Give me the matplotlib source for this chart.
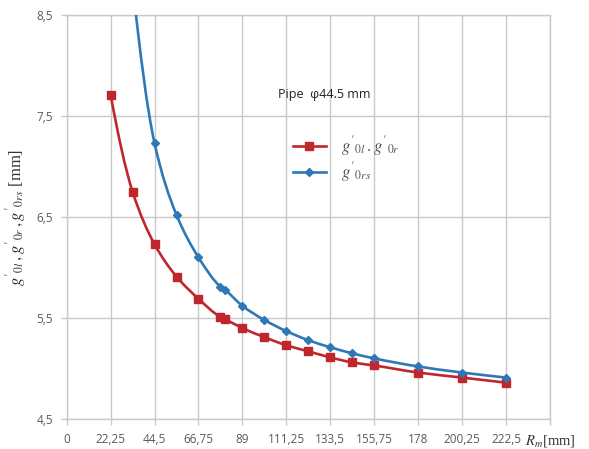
import matplotlib
matplotlib.use("Agg")
import matplotlib.pyplot as plt
from matplotlib.path import Path
from matplotlib.patches import PathPatch

# data
r_red = [22.25, 33.375, 44.5, 55.625, 66.75, 77.875, 80.1, 89, 100.125, 111.25,
         122.375, 133.5, 144.625, 155.75, 178, 200.25, 222.5]
g_red = [7.71, 6.75, 6.23, 5.91, 5.69, 5.51, 5.49, 5.40, 5.31, 5.23,
         5.17, 5.11, 5.06, 5.03, 4.96, 4.91, 4.86]

r_blue = [33.375, 44.5, 55.625, 66.75, 77.875, 80.1, 89, 100.125, 111.25,
          122.375, 133.5, 144.625, 155.75, 178, 200.25, 222.5]
g_blue = [8.80, 7.23, 6.52, 6.10, 5.81, 5.78, 5.62, 5.48, 5.37,
          5.28, 5.21, 5.15, 5.10, 5.02, 4.96, 4.91]

x_ticks = [0, 22.25, 44.5, 66.75, 89, 111.25, 133.5, 155.75, 178, 200.25, 222.5, 244.75]
x_labels = ["0", "22,25", "44,5", "66,75", "89", "111,25", "133,5", "155,75",
            "178", "200,25", "222,5", "$R_m$[mm]"]
y_ticks = [4.5, 5.5, 6.5, 7.5, 8.5]
y_labels = ["4,5", "5,5", "6,5", "7,5", "8,5"]


def smooth_path(xs, ys):
    # smoothed line (monotone cubic) drawn as Bezier segments through the points
    n = len(xs)
    h = [xs[i + 1] - xs[i] for i in range(n - 1)]
    d = [(ys[i + 1] - ys[i]) / h[i] for i in range(n - 1)]
    m = [0.0] * n
    for k in range(1, n - 1):
        if d[k - 1] * d[k] <= 0:
            m[k] = 0.0
        else:
            w1 = 2 * h[k] + h[k - 1]
            w2 = h[k] + 2 * h[k - 1]
            m[k] = (w1 + w2) / (w1 / d[k - 1] + w2 / d[k])
    m[0] = ((2 * h[0] + h[1]) * d[0] - h[0] * d[1]) / (h[0] + h[1])
    if m[0] * d[0] <= 0:
        m[0] = 0.0
    elif d[0] * d[1] <= 0 and abs(m[0]) > 3 * abs(d[0]):
        m[0] = 3 * d[0]
    m[-1] = d[-1]
    verts = [(xs[0], ys[0])]
    codes = [Path.MOVETO]
    for i in range(n - 1):
        c1 = (xs[i] + h[i] / 3, ys[i] + m[i] * h[i] / 3)
        c2 = (xs[i + 1] - h[i] / 3, ys[i + 1] - m[i + 1] * h[i] / 3)
        verts += [c1, c2, (xs[i + 1], ys[i + 1])]
        codes += [Path.CURVE4] * 3
    return Path(verts, codes)


plt.rcParams['font.family'] = ['Open Sans', 'DejaVu Sans']
plt.rcParams['mathtext.fontset'] = 'stix'

fig = plt.figure(figsize=(5.89, 4.49), dpi=100)
ax = fig.add_axes([0.1132, 0.0668, 0.8206, 0.8998])

red = '#c0272d'
blue = '#2f78b7'
grid_c = '#c9c9c9'

ax.add_patch(PathPatch(smooth_path(r_red, g_red), fc='none', ec=red, lw=1.9, zorder=3))
ax.add_patch(PathPatch(smooth_path(r_blue, g_blue), fc='none', ec=blue, lw=1.9, zorder=3))
ax.plot(r_red, g_red, color=red, ls='none', marker='s', ms=5.5, zorder=4)
ax.plot(r_blue, g_blue, color=blue, ls='none', marker='D', ms=3.8, zorder=4)
# legend handles
ax.plot([], [], color=red, lw=1.9, marker='s', ms=5.5, label="${g'}_{0l}\\,.{g'}_{0r}$")
ax.plot([], [], color=blue, lw=1.9, marker='D', ms=3.8, label="${g'}_{0rs}$")

ax.set_xlim(0, 244.75)
ax.set_ylim(4.5, 8.5)
ax.set_xticks(x_ticks)
ax.set_xticklabels(x_labels)
ax.set_yticks(y_ticks)
ax.set_yticklabels(y_labels)
ax.tick_params(axis='both', length=4, width=1, color=grid_c, labelsize=8.5,
               labelcolor='#595959', pad=6)
lab = ax.get_xticklabels()[-1]
lab.set_fontfamily(['Liberation Serif'])
lab.set_fontsize(10.5)
lab.set_color('#333333')
ax.grid(True, color=grid_c, lw=1)
ax.set_axisbelow(True)
for s in ax.spines.values():
    s.set_color(grid_c)
    s.set_linewidth(1)

ax.set_ylabel("${g'}_{0l}\\,,{g'}_{0r}\\,,{g'}_{0rs}$ [mm]", fontsize=12,
              fontfamily=['Liberation Serif'], color='#333333', labelpad=6)

ax.text(106.8, 7.71, "Pipe  \u03c644.5 mm", fontsize=9, va='center',
        ha='left', color='#222222')

ax.legend(loc='upper left', bbox_to_anchor=(0.45, 0.725), frameon=False,
          fontsize=12, handlelength=2.0, handletextpad=0.9, borderpad=0,
          labelspacing=0.1, labelcolor='#555555')

fig.savefig("out.png", dpi=100)
